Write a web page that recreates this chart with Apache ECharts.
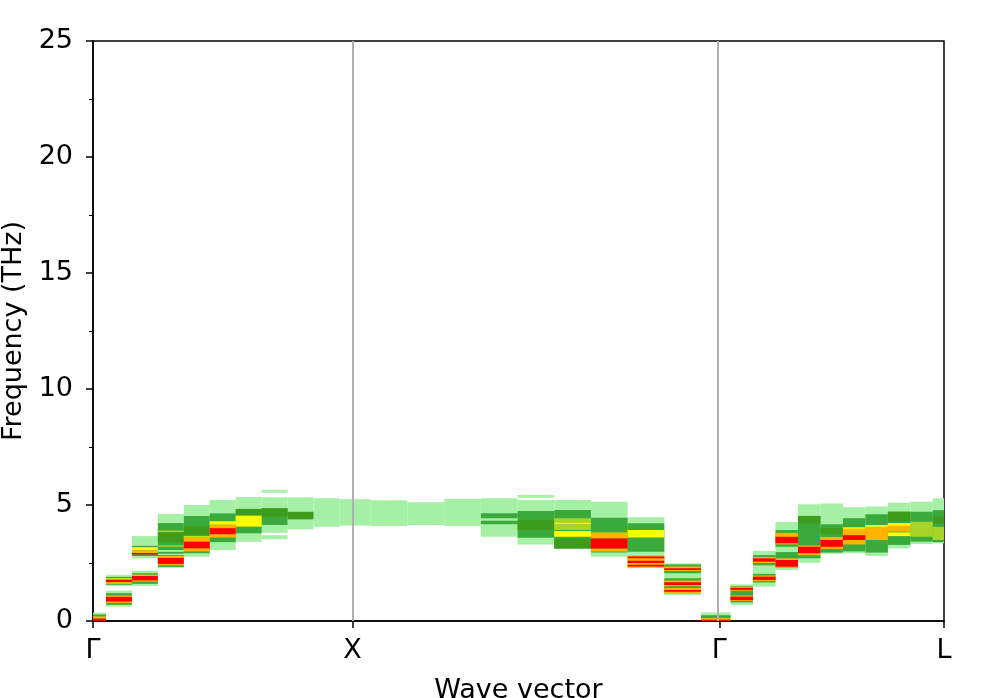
<!DOCTYPE html>
<html>
<head>
<meta charset="utf-8">
<script src="https://cdn.jsdelivr.net/npm/echarts@6/dist/echarts.min.js"></script>
<style>
  html, body { margin: 0; padding: 0; background: #fff; }
  #chart { width: 997px; height: 698px; }
</style>
</head>
<body>
<div id="chart"></div>
<script>
//k点路径 Γ-X-Γ-L
var kPath = [0, 0.1, 0.2, 0.3, 0.4, 0.5, 0.6, 0.7, 0.8, 0.9, 1.0,
    1.1414, 1.2828, 1.4243, 1.5657, 1.7071, 1.8485, 1.9899, 2.1314, 2.2728, 2.4142,
    2.5008, 2.5874, 2.6740, 2.7606, 2.8472, 2.9339, 3.0205, 3.1071, 3.1937, 3.2802];
var tickPos = [0, 1, 2.4142, 3.2802];
var tickNames = ['Γ', 'X', 'Γ', 'L'];
var lineMarks = [1, 2.4142];

//谱权重带 [列号, 频率下限, 频率上限, 权重]
var bandsGX = [
    [0, 0, 0.36, 0.1], [0, 0.04, 0.28, 0.25], [0, 0.1, 0.2, 0.7], [0, 0, 0.1, 0.9],
    [1, 1.51, 1.98, 0.1], [1, 1.56, 1.9, 0.25], [1, 1.6, 1.68, 0.7], [1, 1.78, 1.84, 0.55], [1, 1.68, 1.78, 0.9],
    [1, 0.62, 1.31, 0.1], [1, 0.7, 1.2, 0.25], [1, 0.78, 1.1, 0.7], [1, 0.84, 1.04, 0.9],
    [2, 2.7, 3.66, 0.1], [2, 2.8, 3.24, 0.25], [2, 2.93, 3.05, 0.7], [2, 3.05, 3.18, 0.55], [2, 2.87, 2.93, 0.9],
    [2, 1.51, 2.17, 0.1], [2, 1.6, 2.06, 0.25], [2, 1.7, 2.0, 0.7], [2, 1.75, 1.94, 0.9],
    [3, 2.28, 4.61, 0.1], [3, 3.06, 4.22, 0.25], [3, 3.4, 3.9, 0.35], [3, 3.83, 3.9, 0.45], [3, 3.2, 3.26, 0.45],
    [3, 2.9, 2.98, 0.25], [3, 2.33, 2.84, 0.25], [3, 2.4, 2.8, 0.7], [3, 2.46, 2.72, 0.9],
    [4, 2.77, 5.0, 0.1], [4, 2.92, 4.53, 0.25], [4, 3.72, 4.08, 0.35], [4, 3.0, 3.62, 0.7], [4, 3.58, 3.65, 0.55], [4, 3.13, 3.42, 0.9],
    [5, 3.06, 5.22, 0.1], [5, 3.4, 4.64, 0.25], [5, 3.6, 4.15, 0.7], [5, 4.15, 4.3, 0.55], [5, 3.74, 4.0, 0.9],
    [6, 3.42, 5.34, 0.1], [6, 3.78, 4.83, 0.25], [6, 4.55, 4.83, 0.35], [6, 4.07, 4.54, 0.55],
    [7, 3.8, 5.33, 0.1], [7, 5.53, 5.65, 0.1], [7, 3.52, 3.7, 0.1], [7, 4.14, 4.86, 0.25], [7, 4.5, 4.86, 0.35],
    [8, 3.95, 5.33, 0.1], [8, 4.38, 4.71, 0.3],
    [9, 4.06, 5.29, 0.1],
    [10, 4.11, 5.25, 0.1]
];
var bandsXG = [
    [11, 4.1, 5.2, 0.1],
    [12, 4.14, 5.12, 0.1],
    [13, 4.1, 5.26, 0.1],
    [14, 3.63, 5.29, 0.1], [14, 4.43, 4.64, 0.25], [14, 4.17, 4.32, 0.25],
    [15, 3.3, 5.22, 0.1], [15, 5.31, 5.43, 0.1], [15, 3.59, 4.74, 0.25], [15, 3.92, 4.35, 0.35],
    [16, 3.13, 5.22, 0.1], [16, 3.13, 4.78, 0.25], [16, 3.92, 4.43, 0.45], [16, 4.19, 4.24, 0.55], [16, 3.63, 3.88, 0.55], [16, 3.13, 3.56, 0.35],
    [17, 2.77, 5.14, 0.1], [17, 2.95, 4.45, 0.25], [17, 3.56, 3.8, 0.7], [17, 3.72, 3.8, 0.55], [17, 3.13, 3.56, 0.9], [17, 3.0, 3.13, 0.7],
    [18, 2.27, 4.47, 0.1], [18, 2.99, 4.21, 0.25], [18, 3.6, 3.92, 0.55], [18, 2.3, 2.82, 0.7], [18, 2.62, 2.68, 0.25],
    [18, 2.7, 2.78, 0.9], [18, 2.5, 2.6, 0.9], [18, 2.35, 2.42, 0.9],
    [19, 1.12, 2.49, 0.1], [19, 2.06, 2.44, 0.25], [19, 2.15, 2.35, 0.7], [19, 2.2, 2.27, 0.9], [19, 1.2, 1.84, 0.25],
    [19, 1.5, 1.75, 0.7], [19, 1.55, 1.67, 0.9], [19, 1.2, 1.42, 0.7], [19, 1.26, 1.34, 0.9],
    [20, 0, 0.37, 0.1], [20, 0.12, 0.25, 0.25], [20, 0.06, 0.12, 0.7], [20, 0, 0.06, 0.9]
];
var bandsGL = [
    [21, 0.69, 1.58, 0.1], [21, 0.8, 1.5, 0.25], [21, 1.3, 1.48, 0.7], [21, 1.34, 1.43, 0.9], [21, 0.86, 1.1, 0.7], [21, 0.9, 1.05, 0.9],
    [22, 1.48, 3.02, 0.1], [22, 2.4, 2.84, 0.25], [22, 2.5, 2.76, 0.7], [22, 2.56, 2.7, 0.9], [22, 1.66, 2.03, 0.25], [22, 1.72, 1.96, 0.7], [22, 1.77, 1.91, 0.9],
    [23, 2.2, 4.27, 0.1], [23, 3.2, 3.92, 0.25], [23, 3.3, 3.8, 0.7], [23, 3.68, 3.76, 0.55], [23, 3.35, 3.63, 0.9],
    [23, 2.3, 2.97, 0.25], [23, 2.3, 2.7, 0.7], [23, 2.34, 2.63, 0.9],
    [24, 2.51, 5.03, 0.1], [24, 2.7, 4.53, 0.25], [24, 4.2, 4.53, 0.35], [24, 2.85, 3.26, 0.7], [24, 2.84, 2.9, 0.55], [24, 2.92, 3.2, 0.9],
    [25, 2.9, 5.07, 0.1], [25, 2.95, 4.17, 0.25], [25, 3.75, 4.0, 0.35], [25, 3.1, 3.62, 0.7], [25, 3.2, 3.49, 0.9],
    [26, 2.92, 4.9, 0.1], [26, 3.0, 4.43, 0.25], [26, 3.3, 3.98, 0.7], [26, 3.92, 4.04, 0.55], [26, 3.49, 3.7, 0.9],
    [27, 2.8, 4.93, 0.1], [27, 2.95, 4.6, 0.25], [27, 3.49, 4.06, 0.7], [27, 3.98, 4.14, 0.55],
    [28, 3.13, 5.1, 0.1], [28, 3.28, 4.71, 0.25], [28, 4.28, 4.71, 0.35], [28, 3.85, 4.1, 0.7], [28, 4.1, 4.22, 0.55], [28, 3.66, 3.82, 0.55],
    [29, 3.32, 5.14, 0.1], [29, 3.42, 4.71, 0.25], [29, 3.63, 4.28, 0.45], [29, 3.85, 3.9, 0.35],
    [30, 3.35, 5.29, 0.1], [30, 3.4, 4.78, 0.25], [30, 4.2, 4.5, 0.35], [30, 3.49, 4.06, 0.45]
];

//列的左右边界取相邻k点的中点
function colEdges(c) {
    var n = kPath.length;
    var left = c === 0 ? kPath[0] - (kPath[1] - kPath[0]) / 2 : (kPath[c - 1] + kPath[c]) / 2;
    var right = c === n - 1 ? kPath[n - 1] + (kPath[n - 1] - kPath[n - 2]) / 2 : (kPath[c] + kPath[c + 1]) / 2;
    return [left, right];
}

var rects = [];
bandsGX.concat(bandsXG, bandsGL).forEach(function (b) {
    var e = colEdges(b[0]);
    rects.push([e[0], e[1], b[1], b[2], b[3]]);
});
//权重小的先画
rects.sort(function (a, b) { return a[4] - b[4]; });

function renderBand(params, api) {
    var p0 = api.coord([api.value(0), api.value(3)]);
    var p1 = api.coord([api.value(1), api.value(2)]);
    var shape = echarts.graphic.clipRectByRect({
        x: p0[0], y: p0[1], width: p1[0] - p0[0], height: p1[1] - p0[1]
    }, {
        x: params.coordSys.x, y: params.coordSys.y,
        width: params.coordSys.width, height: params.coordSys.height
    });
    if (!shape) return;
    return {
        type: 'rect',
        shape: shape,
        style: { fill: api.visual('color') }
    };
}

var chart = echarts.init(document.getElementById('chart'));
var font = 'DejaVu Sans';
var fs = 27;
var option = {
    animation: false,
    grid: {
        left: 93, right: 53, top: 41, bottom: 77,
        containLabel: false,
        outerBoundsMode: 'none',
        show: true, borderColor: '#000', borderWidth: 1.5, backgroundColor: '#fff'
    },
    visualMap: {
        show: false,
        type: 'piecewise',
        dimension: 4,
        seriesIndex: 0,
        pieces: [
            { lt: 0.2, color: '#a6f0a6' },
            { gte: 0.2, lt: 0.3, color: '#3aaa3c' },
            { gte: 0.3, lt: 0.4, color: '#3e9c1c' },
            { gte: 0.4, lt: 0.5, color: '#a8d42a' },
            { gte: 0.5, lt: 0.6, color: '#ffff00' },
            { gte: 0.6, lt: 0.8, color: '#ffb400' },
            { gte: 0.8, color: '#ff0000' }
        ]
    },
    xAxis: {
        type: 'value',
        min: 0,
        max: 3.2802,
        name: 'Wave vector',
        nameLocation: 'middle',
        nameGap: 56,
        nameTextStyle: { fontFamily: font, fontSize: fs, color: '#000' },
        axisLine: { show: true, lineStyle: { color: '#000', width: 1.5 } },
        axisTick: { show: true, length: 7, customValues: tickPos, lineStyle: { color: '#000', width: 1.5 } },
        axisLabel: {
            customValues: tickPos,
            margin: 16,
            fontFamily: font, fontSize: fs, color: '#000',
            formatter: function (v) {
                for (var i = 0; i < tickPos.length; i++) {
                    if (Math.abs(tickPos[i] - v) < 1e-3) return tickNames[i];
                }
                return '';
            }
        },
        splitLine: { show: false }
    },
    yAxis: {
        type: 'value',
        min: 0,
        max: 25,
        interval: 5,
        name: 'Frequency (THz)',
        nameLocation: 'middle',
        nameGap: 66,
        nameRotate: 90,
        nameTextStyle: { fontFamily: font, fontSize: fs, color: '#000' },
        axisLine: { show: true, lineStyle: { color: '#000', width: 1.5 } },
        axisTick: { show: true, length: 7, lineStyle: { color: '#000', width: 1.5 } },
        minorTick: { show: true, splitNumber: 2, length: 4, lineStyle: { color: '#000', width: 1 } },
        axisLabel: { margin: 20, fontFamily: font, fontSize: fs, color: '#000' },
        splitLine: { show: false }
    },
    series: [{
        type: 'custom',
        renderItem: renderBand,
        encode: { x: [0, 1], y: [2, 3] },
        data: rects,
        markLine: {
            silent: true,
            symbol: 'none',
            label: { show: false },
            lineStyle: { color: '#b0b0b0', width: 2, type: 'solid' },
            data: lineMarks.map(function (v) { return { xAxis: v }; })
        }
    }]
};
chart.setOption(option);
</script>
</body>
</html>
